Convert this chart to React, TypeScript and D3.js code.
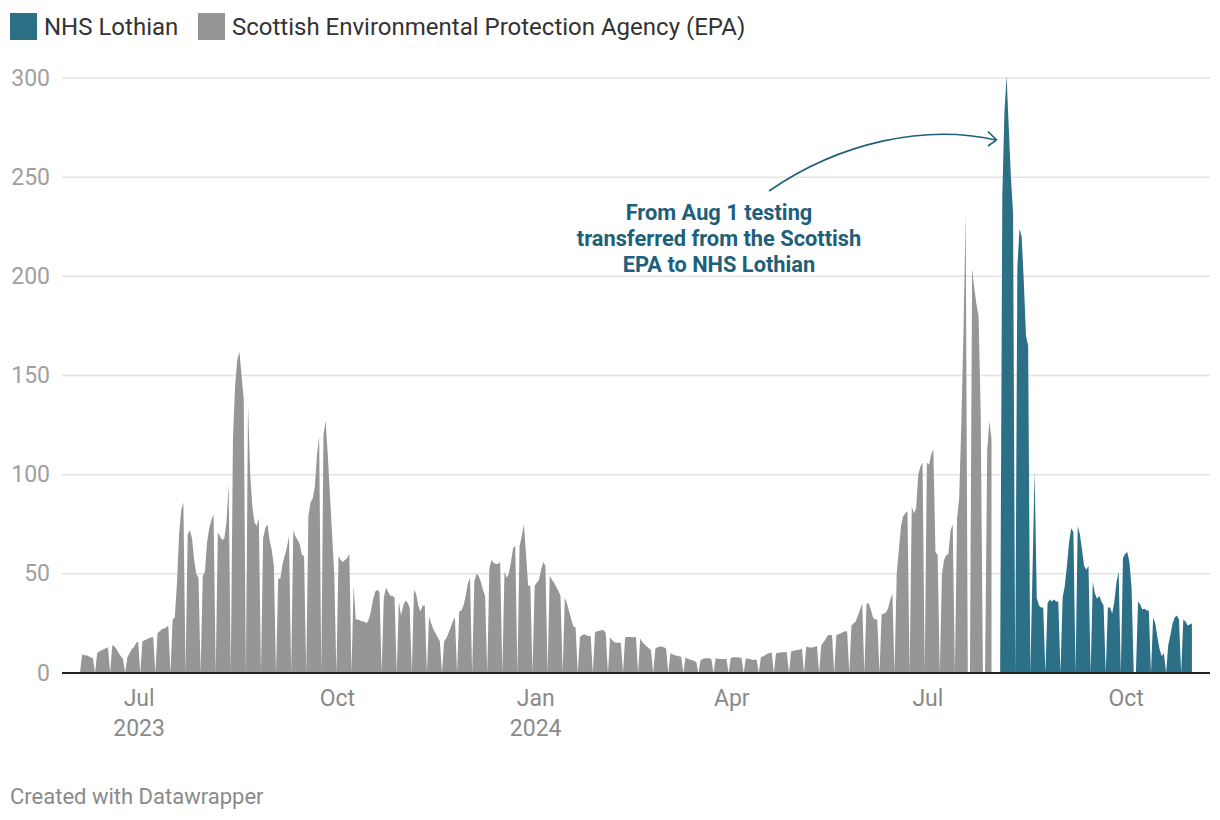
import React from "react";
import * as d3 from "d3";

// First Monday of the EPA series and of the NHS Lothian series
const epaStart = "2023-06-05";
const nhsStart = "2024-08-05";

// Daily values, one row per week (Mon..Sun); 0 = no sample that day
const epaWeeks: number[][] = [
  [9.5, 9, 9, 8.5, 8, 7.5, 0],
  [10, 11, 11.5, 12, 12.5, 13, 0],
  [14, 13.5, 12, 10, 8.5, 7, 0],
  [8, 10, 12, 13, 15, 16, 0],
  [16, 16.5, 17, 17.5, 18, 18, 0],
  [20, 21, 22, 22.5, 23, 24, 0],
  [27, 28, 45, 70, 82, 86, 0],
  [70, 72, 68, 57, 50, 48, 0],
  [49, 51, 66, 73, 77, 80, 0],
  [71, 69, 67, 68, 76, 95, 0],
  [118, 145, 158, 162, 150, 138, 0],
  [135, 100, 84, 76, 74, 78, 0],
  [68, 73, 75, 67, 62, 54, 0],
  [47.5, 47.7, 55, 59, 63, 69, 0],
  [72, 69, 67, 65, 59.5, 59, 0],
  [79, 86, 88, 94, 110, 119, 0],
  [120, 127, 110, 90, 70, 50, 0],
  [59, 57, 56, 57, 58, 60, 0],
  [44, 27, 27, 26.5, 26, 26, 25],
  [27, 31, 37, 41, 42, 41, 0],
  [38, 43, 41, 39, 39, 38, 0],
  [36, 29, 34, 36.5, 35.5, 33, 0],
  [42, 40, 34, 31, 34, 34, 0],
  [28.5, 25, 22, 20, 18, 16, 0],
  [16, 17.5, 20, 23, 26, 28, 0],
  [31, 31.5, 34, 39, 45, 48, 0],
  [46, 50, 49, 46, 42, 39, 0],
  [53, 57, 55.5, 55, 55, 56, 0],
  [51, 48, 50, 56, 63, 64, 0],
  [64, 69, 75, 60, 44, 44, 0],
  [44, 45.5, 47, 52, 56, 54, 0],
  [49, 47, 45.5, 43.5, 41.5, 39, 0],
  [38, 35, 31, 27, 23.5, 23, 0],
  [18, 19, 19.5, 19, 18.7, 18.5, 0],
  [20.5, 21, 21.3, 21.5, 21.7, 20, 0],
  [18, 16.5, 15.5, 15.3, 15.3, 15.3, 0],
  [18, 18.2, 18.3, 18, 18, 18.3, 0],
  [17.5, 15.5, 14.5, 13.3, 12.5, 11.5, 0],
  [12.4, 13, 13.3, 13.3, 13, 12.4, 0],
  [10, 9.5, 9, 8.7, 8.5, 8.2, 0],
  [8, 7.2, 6.8, 6.5, 6, 5.5, 0],
  [6.5, 7, 7.5, 7.5, 7.4, 7, 0],
  [7.4, 7.2, 7, 7, 7, 7.2, 0],
  [7.5, 8, 8, 8, 7.8, 7.4, 0],
  [7.4, 7.2, 7, 6.6, 6.7, 6.8, 0],
  [8, 8.5, 9, 9.7, 10.1, 10.3, 0],
  [10, 10.2, 10.3, 10.4, 10.5, 10.6, 0],
  [10.8, 11.2, 11.5, 11.6, 11.8, 12.3, 0],
  [13.3, 13, 12.8, 12.8, 13.2, 13.6, 0],
  [14, 15.5, 17, 19, 19.1, 19.2, 0],
  [19, 19.5, 20, 20.5, 21, 21, 0],
  [24, 25, 26, 29, 32, 35, 0],
  [35, 35, 32, 28, 27, 27, 0],
  [29.5, 30, 30.5, 32.5, 37, 40, 0],
  [50, 62, 74, 79, 80.5, 81.5, 0],
  [84, 80.5, 83, 100, 104, 106, 0],
  [106, 105, 110, 113, 61, 59.5, 0],
  [50, 57, 59.5, 60, 72, 75, 0],
  [78, 88, 126, 172, 232, 0, 0],
  [204, 194, 186, 180, 130, 0, 0],
  [112, 127, 118],
];

const nhsWeeks: number[][] = [
  [240, 283, 301, 275, 250, 232, 0],
  [205, 224, 220, 197, 170, 165, 0],
  [50, 102, 38, 34, 33, 33, 0],
  [35, 37, 36, 37, 36, 36, 0],
  [38, 44, 54, 66, 73, 71, 0],
  [74, 70, 62, 54, 52, 54, 0],
  [46, 40, 37.5, 39, 36, 34, 0],
  [33, 33, 30, 36, 46, 51, 0],
  [58, 60, 61, 56, 43, 0, 0],
  [36, 34.5, 32, 32.4, 31.5, 31.5, 0],
  [28, 25, 18, 12, 8.5, 10, 0],
  [14, 19, 25, 28, 29, 27, 0],
  [27, 26, 24, 24.5, 25],
];

const seriesNames = ["NHS Lothian", "Scottish Environmental Protection Agency (EPA)"];
const seriesColors = ["#2c7088", "#969696"];

const yTicks = [0, 50, 100, 150, 200, 250, 300];
const xTickDates = ["2023-07-01", "2023-10-01", "2024-01-01", "2024-04-01", "2024-07-01", "2024-10-01"];
const xTickMonths = ["Jul", "Oct", "Jan", "Apr", "Jul", "Oct"];
const xTickYears = ["2023", "", "2024", "", "", ""];

const annotationLines = ["From Aug 1 testing", "transferred from the Scottish", "EPA to NHS Lothian"];
const footer = "Created with Datawrapper";

const parse = d3.timeParse("%Y-%m-%d");

type Pt = { date: Date; v: number };

function buildSeries(startStr: string, weeks: number[][]): Pt[] {
  const start = parse(startStr) as Date;
  const pts: Pt[] = [{ date: d3.timeDay.offset(start, -1), v: 0 }];
  weeks.forEach((row, w) =>
    row.forEach((v, d) => pts.push({ date: d3.timeDay.offset(start, w * 7 + d), v }))
  );
  return pts;
}

export default function App() {
  const W = 1220;
  const H = 820;
  const left = 62;
  const right = 1210;
  const d0 = parse("2023-06-05") as Date;
  const d1 = parse("2024-11-01") as Date;
  const x = d3.scaleTime().domain([d0, d1]).range([82.1, 82.1 + 515 * 2.155]);
  const y = d3.scaleLinear().domain([0, 300]).range([673, 78]);

  const epa = buildSeries(epaStart, epaWeeks);
  const nhs = buildSeries(nhsStart, nhsWeeks);

  const area = d3
    .area<Pt>()
    .x((d) => x(d.date))
    .y0(y(0))
    .y1((d) => y(d.v))
    .curve(d3.curveLinear);

  const teal = "#1d6079";
  const font = "Roboto, 'Noto Sans', sans-serif";

  return (
    <svg
      width={W}
      height={H}
      viewBox={`0 0 ${W} ${H}`}
      style={{ position: "absolute", left: 0, top: 0, background: "#fff" }}
      fontFamily={font}
    >
      {/* legend */}
      <rect x={10} y={13} width={27} height={27} fill={seriesColors[0]} />
      <text x={44} y={35} fontSize={24} fill="#333">
        {seriesNames[0]}
      </text>
      <rect x={198} y={13} width={27} height={27} fill={seriesColors[1]} />
      <text x={232} y={35} fontSize={24} fill="#333">
        {seriesNames[1]}
      </text>

      {/* grid */}
      {yTicks.map((t) => (
        <g key={t}>
          {t > 0 && (
            <line x1={left} x2={right} y1={y(t)} y2={y(t)} stroke="#e3e3e3" strokeWidth={1.5} />
          )}
          <text
            x={50}
            y={y(t)}
            textAnchor="end"
            dominantBaseline="central"
            fontSize={23}
            fill="#a0a0a0"
          >
            {t}
          </text>
        </g>
      ))}

      {/* areas */}
      <path d={area(epa) || ""} fill={seriesColors[1]} />
      <path d={area(nhs) || ""} fill={seriesColors[0]} />

      {/* baseline */}
      <line x1={left} x2={right} y1={y(0)} y2={y(0)} stroke="#222" strokeWidth={2} />

      {/* x ticks */}
      {xTickDates.map((ds, i) => {
        const xx = x(parse(ds) as Date) + 1;
        return (
          <g key={ds}>
            <text x={xx} y={706} textAnchor="middle" fontSize={23} fill="#8a8a8a">
              {xTickMonths[i]}
            </text>
            {xTickYears[i] && (
              <text x={xx} y={736} textAnchor="middle" fontSize={23} fill="#8a8a8a">
                {xTickYears[i]}
              </text>
            )}
          </g>
        );
      })}

      {/* annotation */}
      {annotationLines.map((l, i) => (
        <text
          key={i}
          x={719}
          y={220 + i * 26}
          textAnchor="middle"
          fontSize={21.8}
          fontWeight={700}
          fill={teal}
        >
          {l}
        </text>
      ))}
      <path
        d="M769,191 C840,142 925,124 996,140"
        fill="none"
        stroke={teal}
        strokeWidth={1.6}
      />
      <path
        d="M988,131.5 L996.5,140 L988,146"
        fill="none"
        stroke={teal}
        strokeWidth={1.6}
      />

      {/* footer */}
      <text x={10} y={804} fontSize={22} fill="#8a8a8a">
        {footer}
      </text>
    </svg>
  );
}
